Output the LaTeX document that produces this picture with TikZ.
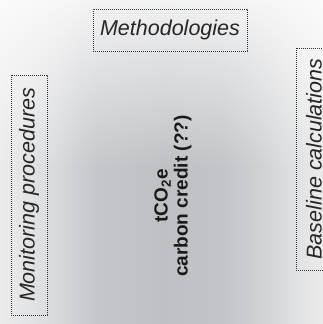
\documentclass[tikz,border=0pt]{standalone}
\usepackage{fontspec}
\setmainfont{Liberation Sans}
\usetikzlibrary{shadings,fadings}

% grey band across the canvas: light at the sides, darkest in the middle
% (the path spans 25bp to 75bp of the shading)
\definecolor{bandrim}{HTML}{EBEBEC}
\definecolor{bandA}{HTML}{E2E3E4}
\definecolor{bandB}{HTML}{D7D8DA}
\definecolor{bandC}{HTML}{CCCDD0}
\definecolor{bandD}{HTML}{C4C6C9}
\definecolor{bandcore}{HTML}{BEC0C3}
\definecolor{bandE}{HTML}{C2C4C7}
\definecolor{bandF}{HTML}{C9CBCE}
\definecolor{bandG}{HTML}{D2D3D5}
\definecolor{bandH}{HTML}{DFE0E1}
\pgfdeclarehorizontalshading{band}{100bp}{%
  color(0bp)=(bandrim); color(25bp)=(bandrim); color(29.6bp)=(bandA);
  color(34.3bp)=(bandB); color(37.4bp)=(bandC); color(40.5bp)=(bandD);
  color(50.5bp)=(bandcore); color(59.5bp)=(bandE); color(63bp)=(bandF);
  color(66bp)=(bandG); color(70.4bp)=(bandH); color(75bp)=(bandrim);
  color(100bp)=(bandrim)}

% white haze over the upper part, opaque at the top
\tikzfading[name=tophaze, top color=transparent!0, bottom color=transparent!100]

\begin{document}
\begin{tikzpicture}[x=1pt,y=-1pt,
  labelbox/.style={draw=black!80, line width=0.6pt,
    dash pattern=on 0.6pt off 1.4pt, inner sep=0pt,
    font=\fontsize{21.5}{24}\selectfont\itshape, text=black!85},
  core/.style={align=center, inner sep=0pt,
    font=\fontsize{19}{20}\selectfont\bfseries, text=black!90}]

  % canvas
  \shade[shading=band] (0,0) rectangle (323,324);
  \fill[white, fill opacity=0.8, path fading=tophaze] (0,0) rectangle (323,170);
  \useasboundingbox (0,0) rectangle (323,324);

  % surrounding labels
  \node[labelbox, minimum width=154pt, minimum height=42pt] (meth) at (170,30) {Methodologies};
  \node[labelbox, rotate=90, minimum width=240pt, minimum height=36pt] (mon) at (29,195) {Monitoring procedures};
  \node[labelbox, rotate=90, minimum width=222pt, minimum height=36pt] (base) at (314,159) {Baseline calculations};

  % central quantity
  \node[core, rotate=90] (credit) at (173,196) {tCO\textsubscript{2}e\\carbon credit (??)};
\end{tikzpicture}
\end{document}
